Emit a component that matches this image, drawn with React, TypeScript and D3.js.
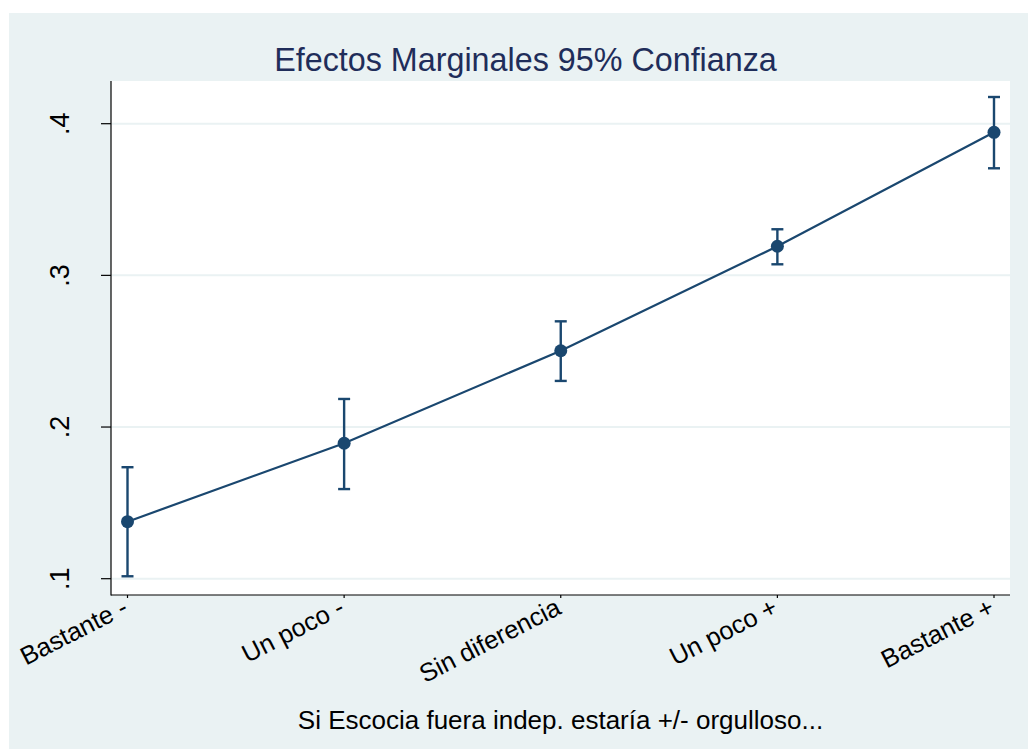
import React from "react";
import * as d3 from "d3";

const categories = ["Bastante -", "Un poco -", "Sin diferencia", "Un poco +", "Bastante +"];
const estimates = [0.1376, 0.1893, 0.2503, 0.3192, 0.3943];
const ciLower = [0.1016, 0.1591, 0.2304, 0.3073, 0.3706];
const ciUpper = [0.1735, 0.2185, 0.2697, 0.3304, 0.4176];
const yTicks = [0.1, 0.2, 0.3, 0.4];
const yTickLabels = [".1", ".2", ".3", ".4"];
const title = "Efectos Marginales 95% Confianza";
const xTitle = "Si Escocia fuera indep. estaría +/- orgulloso...";

const W = 1028;
const H = 749;
const plot = { left: 111, right: 1010, top: 81, bottom: 595 };
const navy = "#1a476f";
const bg = "#eaf2f3";
const font = "'Liberation Sans', Arial, sans-serif";

export default function App() {
  const x = d3
    .scalePoint<string>()
    .domain(categories)
    .range([127.5, 994]);
  const y = d3
    .scaleLinear()
    .domain([0.1, 0.4])
    .range([578.7, 123.7]);

  const line = d3
    .line<number>()
    .x((_, i) => x(categories[i]) as number)
    .y((d) => y(d));

  return (
    <svg
      width={W}
      height={H}
      style={{ position: "absolute", left: 0, top: 0, background: "#ffffff" }}
      fontFamily={font}
    >
      <rect x={9} y={13} width={W - 9} height={H - 13} fill={bg} />
      <rect
        x={plot.left}
        y={plot.top}
        width={plot.right - plot.left}
        height={plot.bottom - plot.top}
        fill="#ffffff"
      />
      {yTicks.map((t) => (
        <line
          key={"g" + t}
          x1={plot.left}
          x2={plot.right}
          y1={y(t)}
          y2={y(t)}
          stroke={bg}
          strokeWidth={2}
        />
      ))}
      <text
        x={525.5}
        y={71}
        textAnchor="middle"
        fontSize={32.3}
        fill="#1f2d5a"
      >
        {title}
      </text>
      {/* axes */}
      <line x1={plot.left} x2={plot.left} y1={plot.top} y2={plot.bottom + 0.5} stroke="#000" strokeWidth={1.2} />
      <line x1={plot.left} x2={plot.right} y1={plot.bottom} y2={plot.bottom} stroke="#000" strokeWidth={1.2} />
      {yTicks.map((t, i) => (
        <g key={"yt" + t}>
          <line x1={plot.left - 10} x2={plot.left} y1={y(t)} y2={y(t)} stroke="#000" strokeWidth={1.2} />
          <text
            transform={`translate(69, ${y(t)}) rotate(-90)`}
            textAnchor="middle"
            fontSize={27}
            fill="#000"
          >
            {yTickLabels[i]}
          </text>
        </g>
      ))}
      {categories.map((c) => (
        <g key={"xt" + c}>
          <line
            x1={x(c) as number}
            x2={x(c) as number}
            y1={plot.bottom}
            y2={plot.bottom + 3}
            stroke="#000"
            strokeWidth={1.2}
          />
          <text
            transform={`translate(${(x(c) as number) + 2}, ${plot.bottom + 18}) rotate(-27)`}
            textAnchor="end"
            fontSize={25.5}
            fill="#000"
          >
            {c}
          </text>
        </g>
      ))}
      <text x={560.5} y={729} textAnchor="middle" fontSize={26} fill="#000">
        {xTitle}
      </text>
      {/* line */}
      <path d={line(estimates) || ""} fill="none" stroke={navy} strokeWidth={2.2} />
      {/* error bars */}
      {categories.map((c, i) => {
        const cx = x(c) as number;
        return (
          <g key={"e" + c} stroke={navy} strokeWidth={2.4}>
            <line x1={cx} x2={cx} y1={y(ciLower[i])} y2={y(ciUpper[i])} />
            <line x1={cx - 6} x2={cx + 6} y1={y(ciLower[i])} y2={y(ciLower[i])} />
            <line x1={cx - 6} x2={cx + 6} y1={y(ciUpper[i])} y2={y(ciUpper[i])} />
          </g>
        );
      })}
      {categories.map((c, i) => (
        <circle key={"p" + c} cx={x(c) as number} cy={y(estimates[i])} r={6.5} fill={navy} />
      ))}
    </svg>
  );
}
